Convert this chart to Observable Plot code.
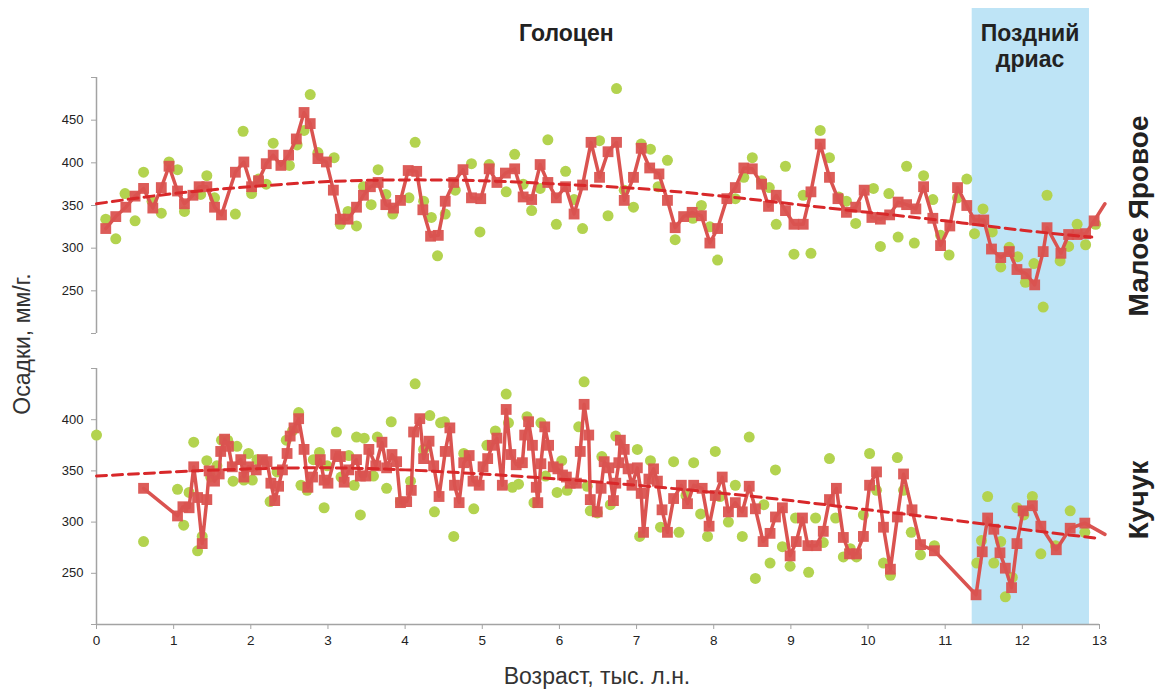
<!DOCTYPE html>
<html><head><meta charset="utf-8">
<script src="https://cdn.jsdelivr.net/npm/d3@7"></script>
<script src="https://cdn.jsdelivr.net/npm/@observablehq/plot@0.6"></script>
<style>
body{margin:0;background:#fff;font-family:"Liberation Sans",Arial,sans-serif;}
#wrap{position:relative;width:1158px;height:690px;overflow:hidden;}
#top,#bot{position:absolute;left:0;}
#top{top:0}#bot{top:350px}
.lab{position:absolute;white-space:nowrap;color:#222;transform:translate(-50%,-50%);line-height:1;}
.rot{transform:translate(-50%,-50%) rotate(-90deg);}
</style></head><body>
<div id="wrap">
<div id="top"></div><div id="bot"></div>
<div class="lab rot" style="left:22px;top:344px;font-size:23px;color:#333">Осадки, мм/г.</div>
<div class="lab rot" style="left:1139px;top:216px;font-size:28px;font-weight:bold">Малое Яровое</div>
<div class="lab rot" style="left:1139px;top:500px;font-size:28px;font-weight:bold">Кучук</div>
<div class="lab" style="left:597px;top:676px;font-size:23px;color:#333">Возраст, тыс. л.н.</div>
</div>
<script>
// ---- data ----
const xTicks = [0,1,2,3,4,5,6,7,8,9,10,11,12,13];
const topTicks = [200,250,300,350,400,450,500];
const topLabels = [250,300,350,400,450];
const botTicks = [200,250,300,350,400,450];
const botLabels = [250,300,350,400];
const bandX1 = [11.35], bandX2 = [12.87];
const titleText = ["Голоцен", "Поздний\nдриас"];
const titleX = [6.09, 12.1];

// Малое Яровое – red series (line extends slightly past 13)
const topRedX = [0.12,0.25,0.38,0.50,0.61,0.73,0.84,0.94,1.05,1.14,1.25,1.33,1.43,1.53,1.62,1.80,1.91,2.01,2.10,2.20,2.29,2.39,2.49,2.59,2.69,2.77,2.87,2.98,3.07,3.16,3.26,3.37,3.46,3.55,3.65,3.75,3.85,3.94,4.04,4.15,4.23,4.33,4.43,4.52,4.63,4.75,4.86,4.98,5.09,5.19,5.30,5.42,5.53,5.64,5.75,5.85,5.96,6.08,6.19,6.30,6.41,6.52,6.63,6.74,6.84,6.96,7.06,7.17,7.29,7.40,7.50,7.61,7.72,7.84,7.95,8.05,8.17,8.28,8.39,8.50,8.62,8.71,8.81,8.93,9.04,9.16,9.26,9.38,9.50,9.61,9.72,9.84,9.95,10.05,10.16,10.28,10.39,10.50,10.62,10.72,10.84,10.94,11.06,11.16,11.28,11.38,11.50,11.60,11.72,11.83,11.93,12.05,12.16,12.27,12.32,12.50,12.60,12.71,12.82,12.93,13.07];
const topRedY = [323,337,348,361,370,347,371,396,367,352,362,372,372,348,339,389,401,372,379,399,409,397,409,428,459,446,405,401,368,334,334,348,362,372,377,351,347,356,391,390,345,314,315,355,377,392,359,358,393,377,388,393,360,357,398,377,359,372,340,374,424,383,413,424,356,383,417,394,387,356,324,337,342,338,306,323,358,371,394,393,375,349,362,344,328,328,366,422,383,358,342,348,368,336,334,339,354,351,346,372,335,303,326,371,350,333,333,299,289,296,275,270,257,296,324,294,316,316,317,332,352];
// Малое Яровое – green series
const topGreenX = [0.12,0.25,0.37,0.50,0.61,0.72,0.84,0.94,1.05,1.14,1.35,1.43,1.53,1.80,1.90,2.01,2.10,2.20,2.29,2.50,2.60,2.69,2.77,2.87,3.08,3.16,3.26,3.37,3.46,3.56,3.65,3.75,3.84,4.05,4.13,4.24,4.34,4.42,4.52,4.65,4.86,4.97,5.09,5.31,5.42,5.53,5.64,5.75,5.85,5.96,6.08,6.19,6.30,6.52,6.63,6.74,6.84,6.96,7.06,7.18,7.28,7.40,7.50,7.73,7.84,7.95,8.05,8.28,8.39,8.50,8.62,8.72,8.81,8.93,9.04,9.16,9.26,9.38,9.50,9.62,9.72,9.84,10.07,10.16,10.27,10.39,10.50,10.60,10.72,10.84,10.94,11.05,11.16,11.28,11.38,11.49,11.61,11.72,11.83,11.94,12.04,12.15,12.27,12.32,12.49,12.60,12.71,12.82,12.95];
const topGreenY = [334,311,364,332,389,355,341,401,392,343,363,385,359,340,437,364,381,375,423,397,421,438,480,412,406,328,343,326,372,351,392,363,340,359,424,355,336,291,340,368,399,319,398,366,410,375,344,370,427,328,390,357,323,426,338,487,368,348,422,416,372,403,310,335,350,325,286,358,383,406,379,371,328,396,293,362,294,438,406,360,355,329,370,302,364,313,396,306,385,357,315,292,359,381,317,346,319,278,301,290,260,282,231,362,285,302,328,304,328];
const topTrendX = [0,1,2,3,4,5,6,7,8,9,10,11,12,12.9];
const topTrendY = [352,364,372,378,380,379,375,370,362,352,342,332,321,313];

// Кучук – red series
const botRedX = [0.61,1.05,1.12,1.20,1.26,1.31,1.37,1.43,1.46,1.53,1.59,1.61,1.66,1.71,1.76,1.87,1.91,1.97,2.07,2.15,2.21,2.26,2.31,2.36,2.41,2.47,2.51,2.56,2.62,2.69,2.74,2.80,2.90,2.95,3.00,3.10,3.16,3.21,3.27,3.37,3.42,3.49,3.53,3.62,3.70,3.76,3.83,3.89,3.94,4.02,4.08,4.11,4.19,4.24,4.31,4.37,4.44,4.52,4.58,4.64,4.70,4.76,4.83,4.88,4.96,5.01,5.07,5.13,5.19,5.26,5.31,5.37,5.44,5.52,5.55,5.60,5.65,5.70,5.72,5.76,5.81,5.86,5.92,5.98,6.04,6.09,6.14,6.22,6.27,6.32,6.38,6.40,6.49,6.54,6.58,6.64,6.70,6.73,6.77,6.79,6.84,6.89,6.94,7.01,7.06,7.09,7.16,7.22,7.27,7.33,7.40,7.48,7.58,7.66,7.74,7.85,7.94,8.02,8.11,8.19,8.28,8.37,8.46,8.54,8.64,8.73,8.80,8.89,8.99,9.07,9.15,9.22,9.33,9.42,9.50,9.59,9.68,9.76,9.85,9.94,10.02,10.11,10.20,10.29,10.38,10.46,10.57,10.68,10.86,11.40,11.48,11.55,11.63,11.71,11.78,11.86,11.93,12.01,12.13,12.24,12.44,12.62,12.81,13.07];
const botRedY = [333,306,315,314,354,324,279,322,350,340,347,369,381,374,354,361,344,354,351,361,359,338,321,335,351,367,384,392,401,371,334,344,361,341,338,366,364,339,351,361,345,345,371,355,378,353,366,359,319,320,331,388,401,362,379,355,325,369,392,336,319,358,365,340,336,354,362,375,382,336,410,366,356,358,385,398,375,334,319,357,393,375,354,352,346,344,338,338,369,415,385,322,310,333,359,353,321,338,358,380,371,352,336,353,328,290,342,352,340,312,290,323,336,318,336,333,296,326,344,310,319,310,335,313,281,289,305,314,267,281,304,277,277,291,322,333,285,269,269,286,336,349,295,254,305,347,312,278,272,229,271,304,293,270,255,236,279,311,316,296,273,294,299,288];
// Кучук – green series
const botGreenX = [0.00,0.61,1.05,1.13,1.20,1.26,1.31,1.37,1.43,1.48,1.56,1.62,1.70,1.77,1.82,1.91,1.97,2.02,2.08,2.25,2.34,2.46,2.54,2.62,2.65,2.73,2.81,2.89,2.95,2.99,3.11,3.17,3.27,3.34,3.37,3.42,3.47,3.59,3.64,3.76,3.82,3.94,4.07,4.13,4.24,4.32,4.38,4.46,4.51,4.63,4.76,4.89,5.06,5.17,5.31,5.34,5.39,5.47,5.58,5.67,5.76,5.82,5.97,6.03,6.10,6.25,6.32,6.36,6.40,6.49,6.55,6.66,6.73,7.01,7.04,7.18,7.31,7.48,7.55,7.64,7.74,7.83,7.92,8.02,8.08,8.19,8.28,8.37,8.46,8.54,8.65,8.73,8.80,8.89,8.99,9.06,9.23,9.32,9.42,9.50,9.58,9.68,9.77,9.85,9.94,10.02,10.11,10.20,10.29,10.38,10.46,10.56,10.68,10.86,11.41,11.47,11.55,11.63,11.72,11.78,11.87,11.93,12.02,12.13,12.24,12.43,12.62,12.81];
const botGreenY = [385,281,332,297,329,378,272,286,360,344,355,380,380,340,374,341,367,341,361,320,349,380,389,407,336,331,361,368,314,355,388,344,365,336,383,307,382,345,383,333,398,320,340,435,371,404,310,397,398,286,367,313,375,389,425,397,334,337,403,319,397,345,329,360,331,393,437,335,311,309,364,317,384,371,286,360,295,359,290,326,358,308,286,369,325,300,336,286,383,245,317,260,351,276,257,304,251,304,280,362,304,266,274,266,307,367,331,260,248,363,331,290,268,277,260,282,325,260,281,227,246,314,307,325,269,277,311,290];
const botTrendX = [0,1,2,3,4,5,6,7,8,9,10,11,12,13];
const botTrendY = [345,349,352,353,351,347,342,336,329,321,312,303,293,284];

// ---- helpers ----
const zip = (xs, ys) => xs.map((x, i) => ({x, y: ys[i]}));
const RED = "#da5350", GREEN = "#b3d34f", TREND = "#d8282a", AXIS = "#a3a3a3", BAND = "#bee4f6";
const font = '"Liberation Sans", Arial, sans-serif';
const band = bandX1.map((x1, i) => ({x1, x2: bandX2[i]}));

function seriesMarks(redX, redY, greenX, greenY, trendX, trendY) {
  const red = zip(redX, redY);
  return [
    Plot.dot(zip(greenX, greenY), {x: "x", y: "y", r: 5.5, fill: GREEN}),
    Plot.line(red, {x: "x", y: "y", stroke: RED, strokeWidth: 3.5, strokeLinejoin: "round"}),
    Plot.dot(red.filter(d => d.x <= 13), {x: "x", y: "y", symbol: "square", r: 6.1, fill: RED, fillOpacity: 0.95}),
    Plot.line(zip(trendX, trendY), {x: "x", y: "y", stroke: TREND, strokeWidth: 3, strokeDasharray: "10,6", curve: "natural"})
  ];
}

const topPlot = Plot.plot({
  width: 1158, height: 350,
  marginLeft: 96, marginRight: 59, marginTop: 8, marginBottom: 0,
  x: {domain: [0, 13], axis: null},
  y: {domain: [200, 500], range: [333, 77]},
  style: {fontFamily: font, fontSize: "13px", color: "#222", background: "transparent", overflow: "visible"},
  marks: [
    Plot.rect(band, {x1: "x1", x2: "x2", fill: BAND}),
    Plot.ruleX([0], {y1: 200, y2: 500, stroke: AXIS, strokeWidth: 1.5}),
    Plot.axisY({ticks: topTicks, tickFormat: d => topLabels.includes(d) ? String(d) : "", tickSize: 5, tickPadding: 8, stroke: AXIS, label: null}),
    ...seriesMarks(topRedX, topRedY, topGreenX, topGreenY, topTrendX, topTrendY),
    Plot.text(titleText, {x: titleX, text: d => d, frameAnchor: "top", lineAnchor: "top", dy: 14, fontSize: 23, fontWeight: "bold", lineHeight: 1.13, fill: "#222"})
  ]
});
document.getElementById("top").appendChild(topPlot);

const botPlot = Plot.plot({
  width: 1158, height: 340,
  marginLeft: 96, marginRight: 59, marginTop: 0, marginBottom: 66,
  x: {domain: [0, 13]},
  y: {domain: [200, 450], range: [274, 18]},
  style: {fontFamily: font, fontSize: "13.5px", color: "#222", background: "transparent", overflow: "visible"},
  marks: [
    Plot.rect(band, {x1: "x1", x2: "x2", fill: BAND}),
    Plot.ruleX([0], {y1: 200, y2: 450, stroke: AXIS, strokeWidth: 1.5}),
    Plot.ruleY([200], {stroke: AXIS, strokeWidth: 1.5}),
    Plot.axisY({ticks: botTicks, tickFormat: d => botLabels.includes(d) ? String(d) : "", tickSize: 5, tickPadding: 8, stroke: AXIS, label: null, fontSize: 13}),
    Plot.axisX({ticks: xTicks, tickFormat: d => String(d), tickSize: 5, tickPadding: 6, stroke: AXIS, label: null}),
    ...seriesMarks(botRedX, botRedY, botGreenX, botGreenY, botTrendX, botTrendY)
  ]
});
document.getElementById("bot").appendChild(botPlot);
</script>
</body></html>
